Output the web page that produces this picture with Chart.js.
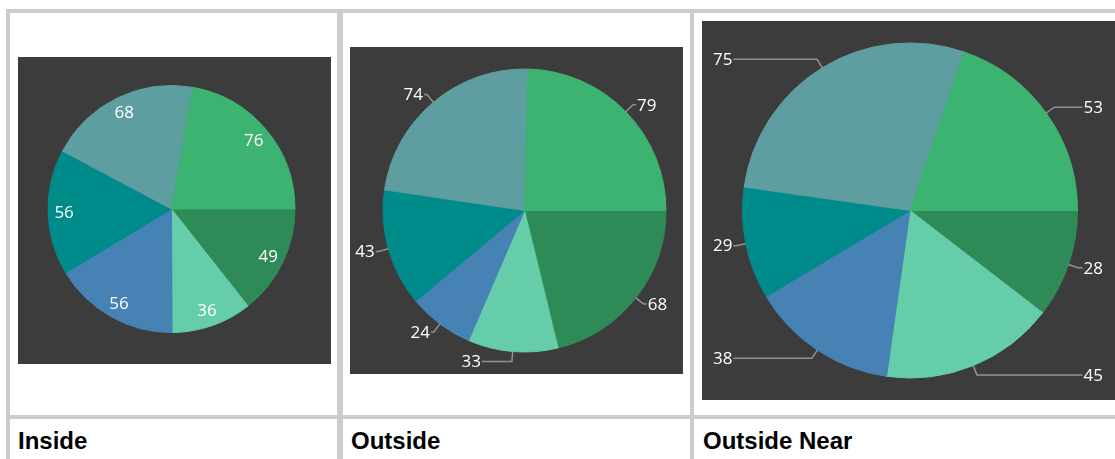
<!DOCTYPE html>
<html>
<head>
<meta charset="utf-8">
<script src="https://cdn.jsdelivr.net/npm/chart.js@4.4.1/dist/chart.umd.min.js"></script>
<style>
  html, body { margin: 0; padding: 0; width: 1115px; height: 459px; overflow: hidden; background: #ffffff; }
  .line { position: absolute; background: #cccccc; }
  .title { position: absolute; font-family: "Liberation Sans", Arial, sans-serif; font-weight: bold; font-size: 24px; color: #000; line-height: 24px; white-space: nowrap; }
  canvas { position: absolute; display: block; }
</style>
</head>
<body>
<!-- table grid -->
<div class="line" style="left:6px; top:9px; width:1109px; height:4px;"></div>
<div class="line" style="left:6px; top:9px; width:4px; height:450px;"></div>
<div class="line" style="left:337px; top:9px; width:6px; height:450px;"></div>
<div class="line" style="left:690px; top:9px; width:4px; height:450px;"></div>
<div class="line" style="left:6px; top:415px; width:1109px; height:4px;"></div>

<canvas id="c1" width="313" height="307" style="left:18px; top:57px;"></canvas>
<canvas id="c2" width="333" height="327" style="left:350px; top:47px;"></canvas>
<canvas id="c3" width="416" height="379" style="left:702px; top:21px;"></canvas>

<div class="title" id="t1" style="left:18px; top:429px;"></div>
<div class="title" id="t2" style="left:351px; top:429px;"></div>
<div class="title" id="t3" style="left:703px; top:429px;"></div>

<script>
// ---- data ----
const categories = ['Slice 1', 'Slice 2', 'Slice 3', 'Slice 4', 'Slice 5', 'Slice 6'];
const insideValues = [49, 36, 56, 56, 68, 76];
const outsideValues = [68, 33, 24, 43, 74, 79];
const outsideNearValues = [28, 45, 38, 29, 75, 53];
const panelTitles = ['Inside', 'Outside', 'Outside Near'];
const sliceColors = ['#2e8b57', '#66cdaa', '#4682b4', '#008b8b', '#5f9ea0', '#3cb371'];

// ---- label plugin ----
const LABEL_FONT = '17px "Open Sans", "Noto Sans", sans-serif';
const LEADER_COLOR = '#929292';

const bgPlugin = {
  id: 'darkBg',
  beforeDraw(chart) {
    const ctx = chart.ctx;
    ctx.save();
    ctx.fillStyle = '#3c3c3c';
    ctx.fillRect(0, 0, chart.width, chart.height);
    ctx.restore();
  }
};

const labelPlugin = {
  id: 'sliceLabels',
  afterDatasetsDraw(chart, args, opts) {
    const mode = opts.mode;
    const ctx = chart.ctx;
    const meta = chart.getDatasetMeta(0);
    const data = chart.data.datasets[0].data;
    const area = chart.chartArea;
    ctx.save();
    ctx.font = LABEL_FONT;
    ctx.fillStyle = '#ffffff';
    ctx.strokeStyle = LEADER_COLOR;
    ctx.lineWidth = 1.5;
    meta.data.forEach((arc, i) => {
      const p = arc.getProps(['x', 'y', 'startAngle', 'endAngle', 'outerRadius'], true);
      const mid = (p.startAngle + p.endAngle) / 2;
      const c = Math.cos(mid), s = Math.sin(mid);
      const txt = String(data[i]);
      const R = p.outerRadius;
      if (mode === 'inside') {
        ctx.textAlign = 'center';
        ctx.textBaseline = 'middle';
        ctx.fillText(txt, p.x + c * R * 0.87, p.y + s * R * 0.87 + 1);
        return;
      }
      const ex = p.x + c * R, ey = p.y + s * R;
      const bx = p.x + c * (R + 10), by = p.y + s * (R + 10);
      const side = c >= 0 ? 1 : -1;
      const tw = ctx.measureText(txt).width;
      let endX, textX;
      if (mode === 'outside') {
        const hlen = Math.abs(c) < 0.2 ? 30 : 3;
        endX = bx + side * hlen;
        textX = endX + side * 1;
      } else {
        if (side > 0) { textX = area.right - 15 - tw; endX = textX - 1; }
        else { textX = area.left + 11 + tw; endX = textX + 1; }
      }
      ctx.beginPath();
      ctx.moveTo(ex, ey);
      ctx.lineTo(bx, by);
      ctx.lineTo(endX, by);
      ctx.stroke();
      ctx.textAlign = side > 0 ? 'left' : 'right';
      ctx.textBaseline = 'middle';
      ctx.fillText(txt, textX, by + 1);
    });
    ctx.restore();
  }
};

function makePie(id, values, mode, radius, padding) {
  return new Chart(document.getElementById(id), {
    type: 'pie',
    data: {
      labels: categories,
      datasets: [{
        data: values,
        backgroundColor: sliceColors,
        borderColor: sliceColors,
        borderWidth: 1
      }]
    },
    options: {
      responsive: false,
      animation: false,
      rotation: 90,
      radius: radius,
      layout: { padding: padding },
      plugins: {
        legend: { display: false },
        tooltip: { enabled: false },
        sliceLabels: { mode: mode }
      },
      events: []
    },
    plugins: [bgPlugin, labelPlugin]
  });
}

makePie('c1', insideValues, 'inside', 123.5, { left: 0, right: 6, top: 0, bottom: 3 });
makePie('c2', outsideValues, 'outside', 141.5, { left: 16, right: 0, top: 0, bottom: 0 });
makePie('c3', outsideNearValues, 'outsideNear', 167.5, { left: 0, right: 0, top: 0, bottom: 0 });

document.getElementById('t1').textContent = panelTitles[0];
document.getElementById('t2').textContent = panelTitles[1];
document.getElementById('t3').textContent = panelTitles[2];
</script>
</body>
</html>
